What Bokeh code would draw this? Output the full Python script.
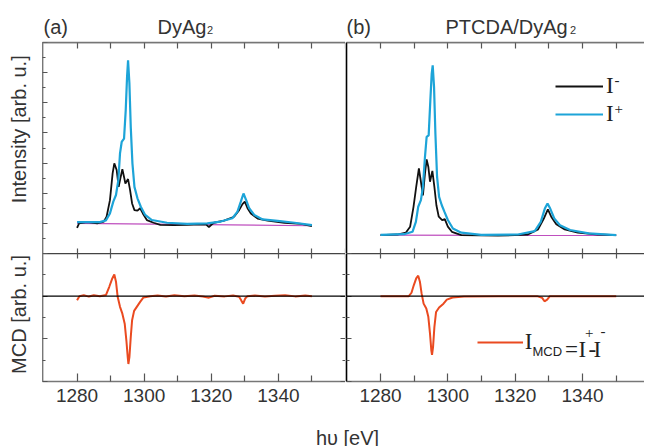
import math
from bokeh.plotting import figure
from bokeh.models import (Range1d, LinearAxis, FixedTicker, Span, Label, Legend, LegendItem,
                          CustomLabelingPolicy)
from bokeh.layouts import gridplot, column, row
from bokeh.embed import file_html
from bokeh.resources import INLINE
from bokeh.core.properties import value

# ---------------- data ----------------
# (a) DyAg2, intensity
a_minus_x = [1280, 1280.6, 1283, 1286, 1288.0, 1288.8, 1289.8, 1290.6, 1291.1, 1291.8, 1292.4, 1293.0,
             1293.5, 1294.0, 1294.4, 1295.2, 1295.8, 1296.4, 1297.1, 1298.0, 1298.8, 1299.6, 1300.8,
             1302.8, 1304.8, 1308.8, 1312.8, 1316.8, 1318.5, 1319.3, 1320.2, 1320.8, 1323.8, 1326.8,
             1328.3, 1329.3, 1330.0, 1330.8, 1331.8, 1333.8, 1336.8, 1341.8, 1346.8, 1350.0]
a_minus_y = [-0.15, 0.0, 0.04, 0.0, 0.06, 0.22, 0.77, 1.66, 1.99, 1.77, 1.21, 1.54, 1.80, 1.54, 1.32,
             1.47, 1.10, 0.66, 0.44, 0.42, 0.50, 0.33, 0.11, 0.02, -0.05, -0.06, -0.05, -0.03, -0.04,
             -0.12, -0.03, 0.02, 0.09, 0.22, 0.44, 0.64, 0.72, 0.50, 0.33, 0.16, 0.09, 0.02, -0.02, -0.09]
a_plus_x = [1280, 1286.8, 1288.6, 1289.8, 1290.8, 1291.6, 1292.3, 1292.8, 1293.3, 1294.0, 1294.5, 1294.9,
            1295.2, 1295.6, 1296.0, 1296.5, 1297.1, 1298.0, 1299.0, 1300.3, 1302.3, 1306.8, 1312.8,
            1318.8, 1322.8, 1326.3, 1327.8, 1328.8, 1329.6, 1330.4, 1331.3, 1332.8, 1335.3, 1339.8,
            1344.8, 1350.0]
a_plus_y = [0.04, 0.04, 0.10, 0.33, 0.72, 0.94, 1.43, 2.32, 2.70, 2.81, 3.75, 4.86, 5.41, 4.64, 3.20,
            1.99, 1.21, 0.83, 0.55, 0.28, 0.11, 0.02, -0.02, 0.00, 0.06, 0.17, 0.39, 0.72, 0.99, 0.77,
            0.50, 0.28, 0.13, 0.08, 0.02, -0.06]
a_base_x = [1280, 1350]
a_base_y = [0.0, -0.08]

# (b) PTCDA/DyAg2, intensity
b_minus_x = [1280, 1285.0, 1287.5, 1288.8, 1289.8, 1290.6, 1291.4, 1292.0, 1292.6, 1293.2, 1293.7,
             1294.2, 1294.7, 1295.4, 1296.0, 1296.6, 1297.3, 1298.3, 1299.1, 1300.0, 1301.2, 1304.0,
             1314.9, 1323.8, 1326.8, 1328.5, 1329.7, 1330.7, 1332.2, 1334.7, 1338.6, 1344.6, 1350.0]
b_minus_y = [0, 0.02, 0.08, 0.28, 0.94, 1.60, 2.21, 1.77, 1.32, 2.04, 2.51, 2.27, 1.77, 2.13, 1.60,
             0.99, 0.61, 0.50, 0.53, 0.28, 0.11, 0, -0.02, 0.02, 0.19, 0.55, 0.85, 0.61, 0.36, 0.19,
             0.08, 0.02, 0]
b_plus_x = [1280, 1287.0, 1289.5, 1290.5, 1291.2, 1292.0, 1292.6, 1293.2, 1293.7, 1294.3, 1294.8,
            1295.2, 1295.5, 1295.9, 1296.3, 1296.8, 1297.4, 1298.2, 1299.0, 1300.0, 1301.5, 1304.0,
            1309.9, 1320.8, 1325.8, 1327.6, 1328.8, 1329.6, 1330.4, 1331.6, 1333.3, 1336.3, 1341.8,
            1350.0]
b_plus_y = [0.01, 0.03, 0.11, 0.44, 0.94, 1.16, 1.60, 2.59, 3.26, 3.31, 4.47, 5.35, 5.63, 4.91, 3.37,
            1.93, 1.27, 0.99, 0.77, 0.50, 0.22, 0.08, 0.01, 0.02, 0.13, 0.44, 0.88, 1.05, 0.88, 0.55,
            0.33, 0.17, 0.06, 0.0]
b_base_x = [1280, 1350]
b_base_y = [0.0, -0.01]

# MCD = I+ - I-
a_mcd_x = [1280, 1280.7, 1282.0, 1283.5, 1285.0, 1286.8, 1288.6, 1289.6, 1290.5, 1291.1, 1291.6,
           1292.1, 1292.8, 1293.5, 1294.2, 1294.7, 1295.1, 1295.3, 1295.6, 1296.0, 1296.4, 1297.0,
           1297.8, 1298.8, 1299.8, 1301.8, 1304.0, 1306.5, 1309.0, 1312.0, 1315.0, 1317.5, 1319.3,
           1321.0, 1324.0, 1326.5, 1328.3, 1329.0, 1329.5, 1330.1, 1330.8, 1333.0, 1336.0, 1339.0,
           1342.0, 1345.0, 1348.0, 1350.0]
a_mcd_y = [-0.19, 0.0, 0.05, -0.02, 0.04, 0.0, 0.05, 0.44, 0.83, 1.02, 0.68, -0.03, -0.50, -0.82,
           -1.29, -2.08, -2.86, -3.18, -2.86, -1.92, -1.13, -0.69, -0.50, -0.27, -0.06, 0.0, 0.03,
           -0.02, 0.04, 0.0, 0.03, -0.02, -0.07, 0.02, -0.01, 0.03, -0.03, -0.22, -0.35, -0.11, 0.0,
           0.03, -0.02, 0.02, 0.04, -0.01, 0.03, 0.0]
b_mcd_x = [1280, 1284.0, 1288.4, 1289.2, 1289.9, 1290.6, 1291.2, 1291.7, 1292.2, 1292.8, 1293.6,
           1294.2, 1294.7, 1295.1, 1295.3, 1295.6, 1296.0, 1296.5, 1297.4, 1298.7, 1299.7, 1301.4,
           1304.8, 1315.0, 1326.5, 1328.0, 1328.7, 1329.5, 1330.3, 1340.0, 1350.0]
b_mcd_y = [0.0, 0.0, 0.0, 0.16, 0.52, 0.83, 0.96, 0.68, 0.13, -0.35, -0.58, -0.97, -1.76, -2.55,
           -2.75, -2.39, -1.45, -0.74, -0.53, -0.35, -0.16, -0.06, -0.02, 0.0, 0.0, -0.08, -0.24,
           -0.16, 0.0, 0.0, 0.0]

x_major = [1280, 1300, 1320, 1340, 1360]
x_minor = [1290, 1310, 1330, 1350]
x_labels = [1280, 1300, 1320, 1340]
int_major = [-1, 0, 1, 2, 3, 4, 5, 6]
int_minor = [-0.5, 0.5, 1.5, 2.5, 3.5, 4.5, 5.5]
mcd_major = [-4, -2, 0, 2]
mcd_minor = [-3, -1, 1]
a_int_range = (-1, 6)
b_int_range = (-0.61, 6.39)

# ---------------- style ----------------
SANS = "Liberation Sans"
SERIF = "Liberation Serif"
TXT = "#333333"
LEG = "#222222"
C_MINUS = "#111111"
C_PLUS = "#1DA4D8"
C_MCD = "#EA4A20"
C_BASE = "#BF4FBF"
GRAY = "#777777"
TICK = "#555555"


def no_labels():
    return CustomLabelingPolicy(
        code="for (const i of Array.from(indices)) { indices.unset(i) }\nreturn indices")


def base_fig(w, h, xr, yr, left=0, bottom=0, top=0):
    p = figure(width=w, height=h, x_range=xr, y_range=yr, output_backend="svg", title=None,
               toolbar_location=None, x_axis_location=None, y_axis_location=None,
               min_border_left=left, min_border_right=0, min_border_top=top,
               min_border_bottom=bottom)
    p.xgrid.visible = False
    p.ygrid.visible = False
    p.outline_line_color = None
    p.background_fill_color = "white"
    p.border_fill_color = "white"
    return p


def axis(p, side, ticks, minor, tin, min_in, color, lw=1.5, labels=False):
    ax = LinearAxis(ticker=FixedTicker(ticks=ticks, minor_ticks=minor))
    ax.major_tick_in = tin
    ax.major_tick_out = 0
    ax.minor_tick_in = min_in
    ax.minor_tick_out = 0
    ax.axis_line_color = color
    ax.axis_line_width = lw
    ax.axis_label_standoff = 0
    ax.major_tick_line_color = TICK if tin else None
    ax.minor_tick_line_color = TICK if min_in else None
    ax.major_tick_line_width = 1.2
    ax.minor_tick_line_width = 1.2
    if labels:
        ax.major_label_text_font = SANS
        ax.major_label_text_font_size = "19px"
        ax.major_label_text_color = TXT
        ax.major_label_standoff = 7
    else:
        ax.major_label_policy = no_labels()
        ax.major_label_text_font_size = "0px"
        ax.major_label_standoff = 0
    p.add_layout(ax, side)
    return ax


def lab(p, x, y, text, size, font=SANS, color=TXT, angle=0.0, align="left", baseline="alphabetic"):
    p.add_layout(Label(x=x, y=y, x_units="screen", y_units="screen", text=text, text_font=font,
                       text_font_size=size, text_color=color, angle=angle, text_align=align,
                       text_baseline=baseline))


def strip_fig(w, h):
    s = figure(width=w, height=h, x_range=Range1d(0, 1), y_range=Range1d(0, 1), title=None,
               output_backend="svg", toolbar_location=None, x_axis_location=None,
               y_axis_location=None, min_border=0)
    s.xgrid.visible = False
    s.ygrid.visible = False
    s.outline_line_color = None
    s.background_fill_color = "white"
    s.border_fill_color = "white"
    return s


xr_a = Range1d(1269.7, 1360.0)
xr_b = Range1d(1269.9, 1358.4)

# ---------------- top-left: (a) intensity ----------------
tl = base_fig(303, 214, xr_a, Range1d(*a_int_range), top=3)
tl.add_layout(Span(location=a_int_range[1], dimension="width", line_color=GRAY, line_width=1.5))
tl.line(a_base_x, a_base_y, line_color=C_BASE, line_width=1.2)
tl.line(a_minus_x, a_minus_y, line_color=C_MINUS, line_width=1.8)
tl.line(a_plus_x, a_plus_y, line_color=C_PLUS, line_width=2.2)
axis(tl, "left", int_major, int_minor, 5, 3, GRAY, 1.8)
axis(tl, "above", x_major, x_minor, 6, 6, GRAY, 1.5)
axis(tl, "below", x_major, x_minor, 5, 5, None)

# ---------------- top-right: (b) intensity ----------------
tr = base_fig(299, 214, xr_b, Range1d(*b_int_range), left=1, top=3)
tr.add_layout(Span(location=b_int_range[1], dimension="width", line_color=GRAY, line_width=1.5))
tr.line(b_base_x, b_base_y, line_color=C_BASE, line_width=1.2)
rb = tr.line(b_minus_x, b_minus_y, line_color=C_MINUS, line_width=1.8)
rc = tr.line(b_plus_x, b_plus_y, line_color=C_PLUS, line_width=2.2)
axis(tr, "left", int_major, int_minor, 0, 0, "black", 1.6)
axis(tr, "above", x_major, x_minor, 6, 6, GRAY, 1.5)
axis(tr, "below", x_major, x_minor, 5, 5, None)
leg = Legend(items=[LegendItem(label=value("I"), renderers=[rb]),
                    LegendItem(label=value("I"), renderers=[rc])],
             location=(209, 125), orientation="vertical", glyph_width=48, glyph_height=28,
             label_height=28, label_standoff=3, padding=0, spacing=0, margin=0,
             border_line_color=None, background_fill_alpha=0, label_text_font=SERIF,
             label_text_font_size="23px", label_text_color=LEG)
tr.add_layout(leg)
lab(tr, 268, 173.5, "-", "15px", font=SERIF, color=LEG)
lab(tr, 268, 145, "+", "15px", font=SERIF, color=LEG)

# ---------------- bottom-left: (a) MCD ----------------
bl = base_fig(303, 158, xr_a, Range1d(-4, 2), bottom=30)
bl.add_layout(Span(location=0, dimension="width", line_color="black", line_width=1.2))
bl.line(a_mcd_x, a_mcd_y, line_color=C_MCD, line_width=2.0)
axis(bl, "left", mcd_major, mcd_minor, 5, 3, GRAY, 1.8)
axis(bl, "right", mcd_major, mcd_minor, 5, 3, None)
axis(bl, "above", x_major, x_minor, 5, 5, "#444444", 1.6)
axis(bl, "below", x_labels, x_minor, 8, 6, GRAY, 1.5, labels=True)

# ---------------- bottom-right: (b) MCD ----------------
br = base_fig(299, 158, xr_b, Range1d(-4, 2), left=1, bottom=30)
br.add_layout(Span(location=0, dimension="width", line_color="black", line_width=1.2))
rm = br.line(b_mcd_x, b_mcd_y, line_color=C_MCD, line_width=2.0)
axis(br, "left", mcd_major, mcd_minor, 5, 3, "black", 1.6)
axis(br, "above", x_major, x_minor, 5, 5, "#444444", 1.6)
axis(br, "below", x_labels, x_minor, 8, 6, GRAY, 1.5, labels=True)
leg2 = Legend(items=[LegendItem(label=value("I"), renderers=[rm])],
              location=(130.7, 25.3), orientation="vertical", glyph_width=46, glyph_height=28,
              label_height=28, label_standoff=2, padding=0, spacing=0, margin=0,
              border_line_color=None, background_fill_alpha=0, label_text_font=SERIF,
              label_text_font_size="23px", label_text_color=LEG)
br.add_layout(leg2)
lab(br, 186, 30.3, "MCD", "13px", color=LEG)
lab(br, 218.5, 31.7, "=", "23px", font=SERIF, color=LEG)
lab(br, 232, 31.7, "I", "23px", font=SERIF, color=LEG)
lab(br, 238.5, 49, "+", "15px", font=SERIF, color=LEG)
lab(br, 242, 31.7, "-", "23px", font=SERIF, color=LEG)
lab(br, 247, 31.7, "I", "23px", font=SERIF, color=LEG)
lab(br, 254, 51, "-", "15px", font=SERIF, color=LEG)

# ---------------- titles, axis titles ----------------
top = strip_fig(644, 39)
lab(top, 43, 13, "(a)", "20px")
lab(top, 157, 13, "DyAg", "20px")
lab(top, 206.5, 9.7, "2", "11px")
lab(top, 346, 13, "(b)", "20px")
lab(top, 445, 13, "PTCDA/DyAg", "20px")
lab(top, 569.5, 9.7, "2", "11px")

left = strip_fig(42, 372)
lab(left, 18.5, 282.3, "Intensity [arb. u.]", "20px", angle=math.pi / 2, align="center",
    baseline="middle")
lab(left, 18, 97, "MCD [arb. u.]", "20px", angle=math.pi / 2, align="center", baseline="middle")

bottom = strip_fig(644, 35)
lab(bottom, 347, 9, "h\u03c5 [eV]", "20px", align="center")

grid = gridplot([[tl, tr], [bl, br]], toolbar_location=None)
layout = column(top, row(left, grid), bottom)

open("out.html", "w").write(file_html(layout, INLINE))
